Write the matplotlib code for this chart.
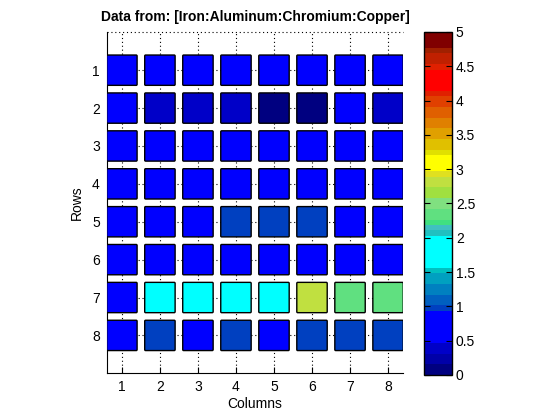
import numpy as np
import matplotlib
matplotlib.use('Agg')
import matplotlib.pyplot as plt
from matplotlib.colors import ListedColormap, Normalize
from matplotlib.patches import FancyBboxPatch
from matplotlib.cm import ScalarMappable

plt.rcParams['font.family'] = ['Liberation Sans', 'DejaVu Sans']

# ---------------- data ----------------
title = 'Data from: [Iron:Aluminum:Chromium:Copper]'
row_ids = [1, 2, 3, 4, 5, 6, 7, 8]
col_ids = [1, 2, 3, 4, 5, 6, 7, 8]

row1 = [0.7, 0.7, 0.7, 0.7, 0.7, 0.7, 0.7, 0.7]
row2 = [0.7, 0.4, 0.4, 0.4, 0.1, 0.1, 0.7, 0.4]
row3 = [0.7, 0.7, 0.7, 0.7, 0.7, 0.7, 0.7, 0.7]
row4 = [0.7, 0.7, 0.7, 0.7, 0.7, 0.7, 0.7, 0.7]
row5 = [0.7, 0.7, 0.7, 0.98, 0.98, 0.98, 0.7, 0.7]
row6 = [0.7, 0.7, 0.7, 0.7, 0.7, 0.7, 0.7, 0.7]
row7 = [0.7, 1.8, 1.8, 1.8, 1.8, 2.8, 2.35, 2.35]
row8 = [0.7, 0.98, 0.7, 0.98, 0.7, 0.98, 0.98, 0.98]
values = np.array([row1, row2, row3, row4, row5, row6, row7, row8])

cbar_ticks = [0, 0.5, 1, 1.5, 2, 2.5, 3, 3.5, 4, 4.5, 5]
cbar_labels = ['0', '0.5', '1', '1.5', '2', '2.5', '3', '3.5', '4', '4.5', '5']

# colormap bands, bottom -> top (colour, number of entries out of 64)
band_colors = ['#000080', '#0000a8', '#0000c8', '#0000ff',
               '#0040c0', '#0060c0', '#0080c0', '#00a0c0', '#00c0c0',
               '#00ffff',
               '#20c0c0', '#40c0c0', '#40e080', '#60e080', '#80e080',
               '#a0e040', '#c0e040', '#e0e020',
               '#ffff00',
               '#e0e000', '#e0c000', '#e0a000', '#e08000', '#e06000',
               '#e04000', '#e02000',
               '#ff0000',
               '#e02000', '#c02000', '#a02000', '#800000']
band_counts = [2, 2, 2, 6,
               1, 2, 2, 2, 1,
               6,
               1, 1, 1, 2, 2,
               2, 2, 1,
               3,
               1, 2, 2, 2, 2,
               2, 1,
               4,
               1, 2, 1, 3]

colors = []
for c, n in zip(band_colors, band_counts):
    colors += [c] * n
cmap = ListedColormap(colors)
norm = Normalize(vmin=0, vmax=5)

# ---------------- figure ----------------
fig = plt.figure(figsize=(5.6, 4.2), dpi=100)
fig.patch.set_facecolor('white')

ax = fig.add_axes([0.1905, 0.1112, 0.5296, 0.8119])
ax.set_xlim(0.6, 8.4)
ax.set_ylim(9, 0)

for i, r in enumerate(row_ids):
    for j, c in enumerate(col_ids):
        box = FancyBboxPatch((c - 0.4, r - 0.4), 0.8, 0.8,
                             boxstyle='round,pad=0,rounding_size=0.025',
                             facecolor=cmap(norm(values[i, j])),
                             edgecolor='black', linewidth=1.0, zorder=3)
        ax.add_patch(box)

ax.set_xticks(col_ids)
ax.set_yticks(row_ids)
ax.grid(True, color='black', linestyle=(0, (1, 2.5)), linewidth=0.8)
ax.set_axisbelow(True)
ax.axhline(0, color='black', linestyle=(0, (1, 2.5)), linewidth=0.8,
           clip_on=False)

ax.spines['top'].set_visible(False)
ax.spines['right'].set_visible(False)
ax.tick_params(direction='in', length=4, labelsize=10, pad=5)

ax.set_xlabel('Columns', fontsize=10, labelpad=2)
ax.set_ylabel('Rows', fontsize=10, labelpad=6)
ax.set_title(title, fontsize=10, fontweight='bold', pad=8)

# colorbar
cax = fig.add_axes([424 / 560, 1 - 375 / 420, 27.7 / 560, 343 / 420])
sm = ScalarMappable(norm=norm, cmap=cmap)
cb = fig.colorbar(sm, cax=cax, ticks=cbar_ticks)
cb.ax.set_yticklabels(cbar_labels)
cb.outline.set_linewidth(1.0)
cb.ax.tick_params(direction='in', left=True, right=True, length=4,
                  labelsize=10, pad=3)

fig.savefig('out.png', dpi=100)
